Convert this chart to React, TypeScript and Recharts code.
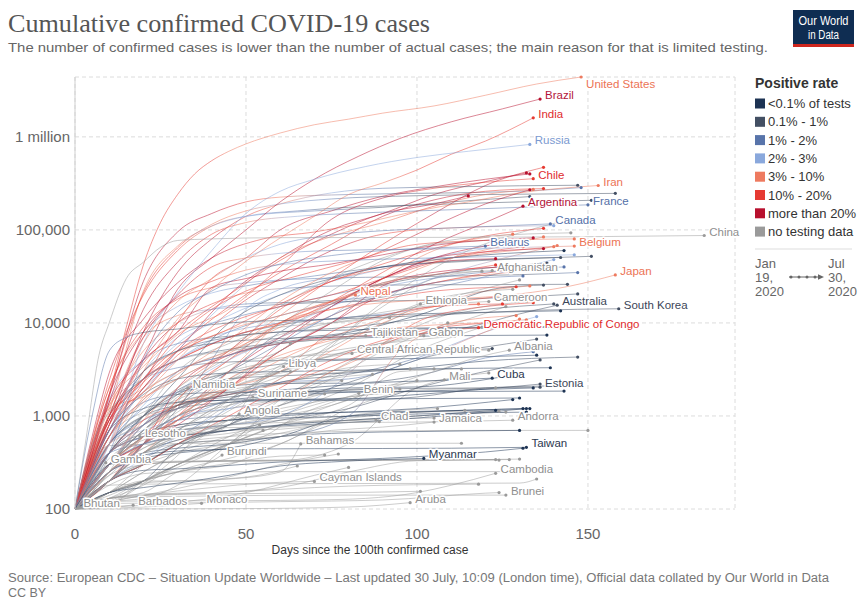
import React from 'react';
import { LineChart, Line, XAxis, YAxis, CartesianGrid } from 'recharts';

// [days since 100th confirmed case, cumulative confirmed cases, positive-rate band index]
type Pt = [number, number, number];
type Track = [string, Pt[]];

const RATE_BANDS = ['<0.1% of tests', '0.1% - 1%', '1% - 2%', '2% - 3%', '3% - 10%', '10% - 20%', 'more than 20%', 'no testing data'];
const BAND_COLORS = ['#1d3353', '#434f63', '#5874aa', '#8aa8dc', '#ee7a5f', '#e63a32', '#b8102e', '#9a9a9a'];
const LABEL_COLORS = ['#2b3850', '#3c4658', '#5470a8', '#7b99d0', '#ec7355', '#e02b2e', '#b3153a', '#8f8f8f'];

const X_TICKS = [0, 50, 100, 150];
const Y_TICKS = [100, 1000, 10000, 100000, 1000000];
const Y_TICK_LABELS = ['100', '1,000', '10,000', '100,000', '1 million'];

const MAJOR: Track[] = [
  ['United States', [[0,100,5],[5,400,5],[10,1700,5],[15,9000,5],[20,42000,5],[25,120000,5],[30,240000,5],[35,400000,5],[40,555000,5],[45,700000,4],[50,840000,4],[60,1100000,4],[70,1350000,4],[80,1550000,4],[90,1800000,4],[105,2150000,4],[120,2800000,4],[135,3700000,4],[148,4400000,4]]],
  ['Brazil', [[0,100,6],[10,900,6],[20,4300,6],[30,23000,6],[40,50000,6],[50,100000,6],[60,200000,6],[70,350000,6],[83,620000,6],[95,960000,6],[110,1450000,6],[125,2000000,6],[136,2550000,6]]],
  ['India', [[0,100,4],[10,500,4],[20,3000,4],[30,11000,4],[40,23000,4],[50,46000,4],[60,82000,4],[70,140000,4],[80,240000,4],[90,320000,4],[100,440000,5],[110,650000,5],[120,900000,5],[134,1600000,5]]],
  ['Russia', [[0,100,3],[10,500,3],[20,6000,3],[30,21000,3],[40,60000,3],[50,150000,3],[60,260000,3],[70,350000,3],[85,480000,3],[100,600000,3],[115,700000,3],[133,830000,3]]],
  ['South Africa', [[0,100,4],[10,1200,4],[20,1600,4],[30,2500,4],[45,5000,4],[60,12000,4],[75,30000,5],[90,70000,5],[105,150000,6],[120,300000,6],[137,470000,5]]],
  ['Mexico', [[0,100,6],[10,600,6],[20,2000,6],[30,5000,6],[45,20000,6],[60,50000,6],[75,100000,6],[90,150000,6],[105,240000,6],[120,330000,6],[132,410000,6]]],
  ['Peru', [[0,100,5],[10,700,5],[20,2300,5],[30,10000,5],[40,30000,5],[50,50000,5],[60,100000,6],[75,160000,6],[90,230000,6],[105,290000,6],[120,350000,6],[133,400000,6]]],
  ['Chile', [[0,100,4],[10,1300,4],[20,3400,4],[30,7500,4],[45,14000,4],[60,40000,5],[75,130000,6],[90,220000,6],[105,280000,5],[120,325000,5],[134,355000,5]]],
  ['United Kingdom', [[0,100,6],[10,800,6],[20,8000,6],[30,35000,6],[40,80000,6],[50,140000,5],[60,190000,4],[75,250000,3],[90,280000,2],[110,290000,1],[130,298000,1],[147,302000,1]]],
  ['Spain', [[0,100,6],[10,1600,6],[20,28000,6],[30,95000,6],[40,150000,6],[50,200000,5],[60,225000,4],[80,240000,2],[110,250000,1],[130,260000,2],[148,285000,2]]],
  ['Italy', [[0,100,5],[10,1700,5],[20,21000,5],[30,64000,5],[40,115000,4],[50,160000,4],[60,190000,3],[75,215000,2],[100,233000,1],[130,242000,1],[158,247000,1]]],
  ['Iran', [[0,100,6],[5,600,6],[10,2900,6],[20,11000,6],[30,27000,6],[40,50000,6],[55,80000,5],[70,95000,5],[85,120000,4],[100,160000,4],[115,200000,4],[130,250000,4],[153,300000,4]]],
  ['Germany', [[0,100,4],[10,1100,4],[20,22000,4],[30,67000,4],[40,110000,3],[50,140000,3],[65,160000,2],[80,175000,1],[100,185000,1],[130,200000,1],[151,208000,1]]],
  ['France', [[0,100,6],[10,1400,6],[20,14000,6],[30,45000,6],[40,90000,5],[50,120000,4],[65,140000,3],[80,150000,2],[100,160000,2],[125,172000,2],[150,186000,2]]],
  ['Turkey', [[0,100,5],[10,2400,5],[20,20000,5],[30,60000,5],[40,110000,4],[50,140000,3],[70,160000,2],[90,175000,1],[110,200000,1],[133,228000,1]]],
  ['Pakistan', [[0,100,5],[10,900,5],[20,2500,5],[30,5500,5],[45,15000,5],[60,35000,5],[75,70000,5],[90,140000,6],[105,210000,6],[120,260000,5],[137,278000,5]]],
  ['Colombia', [[0,100,4],[10,600,4],[20,1500,4],[30,2800,4],[45,6500,4],[60,17000,4],[75,35000,4],[90,60000,5],[105,110000,6],[120,190000,6],[133,270000,6]]],
  ['Saudi Arabia', [[0,100,3],[10,700,3],[20,1800,3],[30,5000,3],[45,18000,3],[60,50000,4],[75,85000,4],[90,120000,4],[105,180000,5],[120,240000,4],[134,272000,4]]],
  ['Bangladesh', [[0,100,5],[10,800,5],[20,3700,5],[30,8000,5],[45,20000,5],[60,47000,5],[75,90000,6],[90,150000,6],[105,190000,6],[115,232000,6]]],
  ['Argentina', [[0,100,4],[10,800,4],[20,1800,4],[30,3000,4],[45,5000,4],[60,9000,4],[75,17000,5],[90,35000,5],[105,70000,6],[120,120000,6],[131,180000,6]]],
  ['Canada', [[0,100,4],[10,1000,4],[20,6000,4],[30,17000,4],[40,30000,4],[50,50000,3],[60,70000,3],[75,88000,2],[90,98000,2],[110,105000,2],[139,116000,2]]],
  ['China', [[0,100,7],[3,500,7],[7,4500,7],[10,10000,7],[15,30000,7],[20,45000,7],[25,65000,7],[30,77000,7],[40,80000,7],[60,82500,7],[100,83000,7],[150,84500,7],[184,87000,7]]],
  ['Qatar', [[0,100,4],[10,500,4],[20,1600,4],[30,4000,4],[45,13000,5],[60,30000,6],[75,60000,6],[90,90000,5],[110,105000,4],[140,111000,3]]],
  ['Iraq', [[0,100,7],[10,300,7],[20,700,7],[30,1200,7],[50,2000,7],[70,4000,7],[85,12000,7],[100,30000,7],[115,60000,7],[130,93000,7],[141,120000,7]]],
  ['Indonesia', [[0,100,5],[10,900,5],[20,1800,5],[30,4500,5],[45,8600,5],[60,16000,5],[75,28000,5],[90,43000,5],[105,63000,5],[120,86000,5],[137,104000,5]]],
  ['Egypt', [[0,100,7],[10,400,7],[20,1000,7],[30,2000,7],[45,4300,7],[60,9700,7],[75,22000,7],[90,47000,7],[105,72000,7],[120,85000,7],[145,93000,7]]],
  ['Philippines', [[0,100,4],[10,1000,4],[20,3000,4],[30,4900,4],[45,8500,4],[60,12000,4],[75,17000,4],[90,26000,4],[105,44000,4],[120,61000,4],[137,84000,4]]],
];

const MIDDLE: Track[] = [
  ['Belgium', [[0,100,6],[10,1000,6],[20,7000,6],[30,20000,6],[40,40000,5],[50,50000,4],[60,56000,3],[75,60000,2],[100,62000,2],[125,64000,3],[146,67000,4]]],
  ['Belarus', [[0,100,2],[10,400,2],[20,4000,2],[30,13000,2],[40,22000,2],[50,33000,2],[60,43000,2],[75,53000,2],[90,60000,2],[105,64000,2],[120,67000,2]]],
  ['Sweden', [[0,100,5],[10,1000,5],[20,2500,5],[30,7000,5],[40,14000,5],[50,22000,5],[65,32000,5],[80,45000,5],[100,70000,5],[120,77000,4],[146,80000,4]]],
  ['Ecuador', [[0,100,6],[10,1400,6],[20,4000,6],[30,8000,6],[40,24000,6],[50,30000,6],[60,36000,6],[75,43000,6],[90,54000,6],[105,68000,6],[134,82000,6]]],
  ['Netherlands', [[0,100,6],[10,1700,6],[20,8000,6],[30,19000,6],[40,28000,5],[50,37000,4],[65,44000,3],[80,47000,2],[110,50500,2],[146,54000,3]]],
  ['Afghanistan', [[0,100,7],[10,300,7],[20,700,7],[30,1100,7],[45,3000,7],[60,8000,7],[75,16000,7],[90,27000,7],[105,33000,7],[122,36500,7]]],
  ['Japan', [[0,100,4],[10,300,4],[20,600,4],[30,900,4],[40,2000,4],[50,4500,4],[60,10000,4],[75,14000,4],[90,16500,4],[110,18000,4],[130,20500,4],[145,25000,4],[158,32800,4]]],
  ['Nepal', [[0,100,4],[10,300,4],[20,600,4],[30,1500,4],[40,3500,4],[50,6000,4],[60,10000,4],[70,15000,4],[82,20000,4]]],
  ['Ethiopia', [[0,100,7],[13,130,7],[27,300,7],[44,1200,7],[60,3500,7],[74,6000,7],[88,9000,7],[101,16000,7]]],
  ['Cameroon', [[0,100,7],[10,500,7],[20,800,7],[30,1200,7],[40,1800,7],[50,3000,7],[60,5000,7],[75,10000,7],[90,13000,7],[105,15500,7],[121,17000,7]]],
  ['Australia', [[0,100,2],[10,700,2],[20,3000,1],[30,5000,1],[40,6000,1],[60,6800,1],[80,7100,1],[100,7500,1],[115,9000,1],[130,12500,1],[141,15500,1]]],
  ['South Korea', [[0,100,2],[5,1000,2],[10,5000,2],[15,7000,2],[20,7900,1],[30,8600,1],[40,9600,1],[50,10300,1],[70,10800,1],[90,11500,1],[110,12400,1],[135,13700,1],[159,14200,1]]],
  ['Democratic Republic of Congo', [[0,100,5],[10,200,5],[20,300,5],[30,500,5],[45,1000,5],[60,2000,5],[75,4000,5],[90,6500,5],[105,8000,5],[118,8900,5]]],
  ['Tajikistan', [[0,100,7],[5,500,7],[10,1100,7],[20,2500,7],[30,4000,7],[45,5000,7],[60,6000,7],[75,6800,7],[85,7300,7]]],
  ['Gabon', [[0,100,7],[10,200,7],[20,400,7],[30,700,7],[45,1500,7],[60,3000,7],[75,4500,7],[90,6000,7],[102,7300,7]]],
  ['Central African Republic', [[0,100,7],[10,300,7],[20,600,7],[30,1000,7],[45,2000,7],[60,3000,7],[70,4000,7],[81,4700,7]]],
  ['Albania', [[0,100,7],[10,250,7],[20,450,7],[30,600,7],[45,800,7],[60,1000,7],[75,1300,7],[90,2000,7],[105,3000,7],[118,4300,7],[127,5100,7]]],
  ['Mali', [[0,100,7],[10,200,7],[20,400,7],[30,600,7],[45,900,7],[60,1300,7],[75,1800,7],[90,2100,7],[108,2450,7]]],
  ['Cuba', [[0,100,3],[10,300,3],[20,800,3],[30,1200,2],[45,1700,1],[60,1900,0],[75,2100,0],[90,2300,0],[105,2400,0],[122,2550,0]]],
  ['Estonia', [[0,100,2],[10,400,2],[20,800,2],[30,1300,1],[45,1600,1],[60,1750,1],[80,1900,1],[100,1980,1],[120,2000,1],[136,2040,1]]],
];

const SMALL: Track[] = [
  ['Libya', [[0,100,7],[10,200,7],[20,400,7],[30,700,7],[40,1100,7],[50,2000,7],[61,3400,7]]],
  ['Namibia', [[0,100,7],[10,200,7],[20,500,7],[27,1000,7],[33,2000,7]]],
  ['Suriname', [[0,100,7],[10,200,7],[20,400,7],[30,600,7],[40,900,7],[52,1600,7]]],
  ['Benin', [[0,100,7],[10,200,7],[20,300,7],[30,400,7],[45,500,7],[55,600,7],[65,1000,7],[75,1400,7],[83,1750,7]]],
  ['Angola', [[0,100,7],[10,150,7],[20,250,7],[30,400,7],[40,700,7],[48,1050,7]]],
  ['Chad', [[0,100,7],[10,250,7],[20,500,7],[30,700,7],[45,800,7],[60,850,7],[75,880,7],[88,910,7]]],
  ['Jamaica', [[0,100,7],[10,200,7],[20,400,7],[30,500,7],[45,550,7],[60,600,7],[75,700,7],[90,760,7],[105,860,7]]],
  ['Andorra', [[0,100,7],[10,350,7],[20,550,7],[30,700,7],[45,750,7],[60,760,7],[80,850,7],[100,860,7],[128,900,7]]],
  ['Lesotho', [[0,100,7],[5,150,7],[10,250,7],[15,350,7],[19,600,7]]],
  ['Bahamas', [[0,100,7],[10,150,7],[20,200,7],[30,200,7],[45,210,7],[60,250,7],[66,500,7]]],
  ['Burundi', [[0,100,7],[10,150,7],[20,200,7],[30,250,7],[38,300,7],[43,380,7]]],
  ['Taiwan', [[0,100,0],[10,300,0],[20,380,0],[30,420,0],[50,440,0],[70,445,0],[90,447,0],[110,450,0],[132,460,0]]],
  ['Gambia', [[0,100,7],[5,150,7],[9,315,7]]],
  ['Myanmar', [[0,100,0],[10,150,0],[20,170,0],[30,190,0],[45,230,0],[60,290,0],[75,320,0],[90,340,0],[102,350,0]]],
  ['Cambodia', [[0,100,7],[10,120,7],[20,122,7],[50,123,7],[70,125,7],[85,130,7],[100,150,7],[110,180,7],[123,242,7]]],
  ['Cayman Islands', [[0,100,7],[10,120,7],[20,140,7],[40,170,7],[55,190,7],[70,198,7]]],
  ['Brunei', [[0,100,7],[10,130,7],[20,135,7],[40,138,7],[70,141,7],[100,141,7],[126,141,7]]],
  ['Bhutan', [[0,100,7],[1,105,7]]],
  ['Barbados', [[0,100,7],[10,105,7],[17,110,7]]],
  ['Monaco', [[0,100,7],[20,105,7],[37,115,7]]],
  ['Aruba', [[0,100,7],[50,101,7],[80,105,7],[98,117,7]]],
];

const FILL_AMERICAS_ASIA: Track[] = [
  ['Oman', [[0,100,7],[10,400,7],[20,1500,7],[30,2500,7],[45,5000,7],[60,15000,7],[75,30000,7],[90,50000,7],[105,70000,7],[124,78000,7]]],
  ['Kuwait', [[0,100,4],[10,300,4],[20,900,4],[30,2000,4],[45,5000,5],[60,14000,5],[75,28000,5],[90,38000,4],[110,50000,4],[140,66000,4]]],
  ['Panama', [[0,100,6],[10,700,6],[20,2500,6],[30,4000,5],[45,7000,5],[60,10000,4],[75,16000,5],[90,30000,6],[105,50000,6],[120,58000,6],[137,63000,6]]],
  ['Bolivia', [[0,100,5],[10,300,5],[20,500,5],[30,1000,5],[45,3000,6],[60,7000,6],[75,15000,6],[90,30000,6],[105,50000,6],[125,72000,6]]],
  ['Dominican Republic', [[0,100,5],[10,900,5],[20,2300,5],[30,5000,5],[45,10000,5],[60,15000,5],[75,20000,5],[90,30000,5],[105,45000,5],[131,66000,5]]],
  ['Guatemala', [[0,100,5],[10,200,5],[20,500,5],[30,900,5],[45,2000,5],[60,6000,6],[75,15000,6],[90,30000,6],[105,45000,6],[123,49000,6]]],
  ['Honduras', [[0,100,6],[10,300,6],[20,500,6],[30,800,6],[45,2000,6],[60,5000,6],[75,10000,6],[90,25000,6],[105,35000,6],[126,40000,6]]],
  ['Nigeria', [[0,100,5],[10,250,5],[20,500,5],[30,1500,5],[45,4000,5],[60,10000,5],[75,17000,5],[90,27000,5],[105,33000,5],[123,42000,5]]],
  ['Ghana', [[0,100,4],[10,200,4],[20,600,4],[30,1300,4],[45,4000,4],[60,7000,4],[75,12000,4],[90,20000,4],[105,27000,4],[127,35000,4]]],
  ['Kazakhstan', [[0,100,3],[10,500,3],[20,800,3],[30,1800,3],[45,4000,3],[60,7000,3],[75,12000,3],[90,30000,4],[105,60000,4],[128,90000,4]]],
  ['Israel', [[0,100,4],[10,1200,4],[20,5000,4],[30,10000,4],[40,14000,3],[50,16000,2],[70,17000,1],[90,20000,2],[110,35000,3],[141,68000,4]]],
  ['Singapore', [[0,100,1],[10,200,1],[20,500,1],[30,1200,1],[40,4000,2],[50,14000,3],[60,23000,3],[75,31000,2],[90,40000,2],[110,45000,1],[151,52000,1]]],
  ['United Arab Emirates', [[0,100,0],[10,400,0],[20,1000,0],[30,2500,1],[45,10000,1],[60,20000,1],[75,30000,1],[90,40000,0],[110,50000,0],[143,60000,0]]],
  ['Armenia', [[0,100,4],[10,300,4],[20,800,4],[30,1200,4],[45,2000,4],[60,5000,5],[75,10000,6],[90,20000,6],[105,27000,5],[128,38000,5]]],
  ['Kyrgyzstan', [[0,100,7],[10,300,7],[20,600,7],[30,1000,7],[45,1500,7],[60,2500,7],[75,6000,7],[90,15000,7],[105,30000,7],[119,36000,7]]],
  ['Algeria', [[0,100,7],[10,600,7],[20,1800,7],[30,3000,7],[45,5000,7],[60,7500,7],[75,10000,7],[90,12000,7],[105,17000,7],[130,29000,7]]],
  ['Azerbaijan', [[0,100,1],[10,400,1],[20,1000,1],[30,1700,1],[45,3000,1],[60,6000,2],[75,12000,2],[90,20000,2],[105,27000,2],[131,32000,2]]],
  ['El Salvador', [[0,100,4],[10,250,4],[20,500,4],[30,1000,4],[45,2000,4],[60,4000,4],[75,7000,4],[90,11000,4],[105,15000,4],[118,16000,4]]],
  ['Costa Rica', [[0,100,4],[10,400,4],[20,600,3],[30,700,2],[45,800,2],[60,1000,2],[75,2000,3],[90,6000,4],[105,12000,5],[134,16500,5]]],
  ['Haiti', [[0,100,6],[10,200,6],[20,500,6],[30,2000,6],[45,4500,6],[60,6000,6],[75,7000,6],[95,7400,6]]],
  ['Sudan', [[0,100,7],[10,300,7],[20,1000,7],[30,3000,7],[45,6000,7],[60,9000,7],[75,10000,7],[92,11400,7]]],
  ['Senegal', [[0,100,4],[10,250,4],[20,400,4],[30,900,4],[45,2500,4],[60,4500,4],[75,6500,4],[90,8500,4],[105,9500,4],[130,10200,4]]],
  ['Bahrain', [[0,100,1],[10,300,1],[20,700,1],[30,1300,1],[45,3000,2],[60,8000,3],[75,15000,3],[90,24000,3],[110,32000,2],[143,40000,2]]],
  ['Vietnam', [[0,100,0],[10,200,0],[20,260,0],[30,270,0],[60,320,0],[90,350,0],[120,410,0],[131,450,0]]],
  ['Thailand', [[0,100,1],[10,700,1],[20,1700,1],[30,2500,1],[45,2900,0],[60,3000,0],[80,3100,0],[100,3200,0],[139,3300,0]]],
  ['Malaysia', [[0,100,2],[10,1000,2],[20,2500,2],[30,4000,2],[45,5200,1],[60,6200,1],[80,7600,0],[100,8600,0],[140,8950,0]]],
  ['Morocco', [[0,100,4],[10,600,4],[20,1400,4],[30,3000,3],[45,4500,2],[60,6500,1],[80,7900,0],[100,12000,0],[125,24000,1],[137,25500,1]]],
  ['Tunisia', [[0,100,4],[10,500,4],[20,700,3],[30,900,2],[45,1000,1],[60,1050,0],[80,1100,0],[100,1200,0],[128,1500,0]]],
  ['Uruguay', [[0,100,2],[10,400,2],[20,500,2],[30,600,1],[45,700,1],[60,780,0],[80,850,0],[100,950,0],[132,1200,0]]],
  ['Paraguay', [[0,100,2],[10,200,2],[20,300,1],[30,500,1],[45,800,1],[60,1300,1],[75,2000,1],[90,3000,1],[105,4500,1],[122,5300,1]]],
  ['Sri Lanka', [[0,100,1],[10,150,1],[20,200,1],[30,450,1],[45,800,1],[60,1600,0],[80,2000,0],[100,2050,0],[129,2800,0]]],
  ['Lebanon', [[0,100,2],[10,300,2],[20,500,2],[30,600,1],[45,700,1],[60,900,1],[80,1200,1],[100,2000,1],[136,4000,1]]],
  ['Jordan', [[0,100,1],[10,250,1],[20,350,0],[30,400,0],[45,450,0],[60,600,0],[80,1000,0],[100,1100,0],[133,1200,0]]],
  ['Georgia', [[0,100,1],[10,200,1],[20,400,1],[30,550,1],[45,700,0],[60,800,0],[80,900,0],[100,1000,0],[123,1150,0]]],
  ['Palestine', [[0,100,2],[10,250,2],[20,350,2],[30,500,1],[60,600,1],[80,1000,2],[95,5000,4],[110,10000,4],[129,12000,4]]],
  ['Kenya', [[0,100,3],[10,200,3],[20,350,3],[30,600,3],[45,1200,3],[60,2500,4],[75,5000,4],[90,10000,4],[105,15000,4],[123,19000,5]]],
  ['Madagascar', [[0,100,7],[10,120,7],[20,130,7],[30,180,7],[45,500,7],[60,1300,7],[75,2500,7],[90,5000,7],[109,10000,7]]],
  ['Zambia', [[0,100,2],[10,200,2],[20,500,2],[30,1000,3],[45,1200,3],[60,1500,4],[75,3000,4],[90,5000,4],[96,5500,4]]],
  ['Ivory Coast', [[0,100,4],[10,400,4],[20,800,4],[30,1300,4],[45,2000,4],[60,3000,4],[75,8000,5],[90,12000,5],[105,15000,5],[125,16000,5]]],
  ['Guinea', [[0,100,7],[10,300,7],[20,800,7],[30,1800,7],[45,3000,7],[60,4000,7],[75,5000,7],[90,6000,7],[111,7200,7]]],
  ['New Zealand', [[0,100,1],[10,700,1],[20,1200,1],[30,1400,0],[45,1480,0],[60,1500,0],[90,1530,0],[130,1560,0]]],
];

const FILL_EUROPE: Track[] = [
  ['Ukraine', [[0,100,3],[10,600,3],[20,2500,3],[30,6000,3],[45,12000,3],[60,20000,3],[75,28000,3],[90,38000,3],[110,55000,3],[128,69000,3]]],
  ['Romania', [[0,100,3],[10,500,3],[20,2000,3],[30,4000,3],[45,8000,2],[60,12000,2],[75,16000,2],[90,19000,1],[110,26000,2],[140,48000,3]]],
  ['Poland', [[0,100,3],[10,800,3],[20,3000,3],[30,7000,3],[45,11000,2],[60,15000,2],[75,20000,2],[90,26000,1],[110,35000,1],[138,44000,1]]],
  ['Portugal', [[0,100,4],[10,2000,4],[20,8000,4],[30,15000,3],[40,21000,3],[50,25000,2],[70,32000,2],[90,40000,1],[110,46000,1],[142,50500,1]]],
  ['Moldova', [[0,100,4],[10,1000,4],[20,2500,4],[30,4000,5],[45,7000,5],[60,10000,5],[75,14000,5],[90,18000,5],[105,22000,5],[129,24500,5]]],
  ['Switzerland', [[0,100,5],[10,2000,5],[20,9000,5],[30,18000,5],[40,24000,4],[50,27000,3],[70,30000,2],[100,31500,1],[130,33000,1],[147,34800,2]]],
  ['Austria', [[0,100,4],[10,1000,4],[20,7000,4],[30,12000,4],[40,14000,3],[50,15000,2],[70,16500,1],[100,17500,1],[130,19000,1],[147,20500,1]]],
  ['Ireland', [[0,100,6],[10,800,6],[20,4000,6],[30,10000,6],[40,16000,5],[50,21000,4],[65,24000,2],[90,25500,1],[120,25800,1],[144,26000,1]]],
  ['Denmark', [[0,100,4],[10,1000,4],[20,2000,4],[30,4000,3],[45,7000,2],[60,9500,1],[80,11500,1],[100,12500,0],[120,13000,0],[142,13500,0]]],
  ['Norway', [[0,100,3],[10,1500,3],[20,4000,3],[30,6000,2],[45,7200,1],[60,8000,1],[80,8400,0],[100,8800,0],[120,9000,0],[143,9200,0]]],
  ['Czechia', [[0,100,3],[10,1000,3],[20,3000,2],[30,5000,2],[45,7000,1],[60,8000,1],[80,9000,1],[100,11000,1],[120,14000,1],[140,16000,1]]],
  ['Finland', [[0,100,3],[10,500,3],[20,1300,3],[30,3000,2],[45,4500,2],[60,6000,1],[80,6800,1],[100,7200,0],[138,7400,0]]],
  ['Greece', [[0,100,2],[10,400,2],[20,1000,2],[30,1800,1],[45,2500,1],[60,2700,1],[80,2900,0],[100,3300,0],[120,3900,0],[147,4300,1]]],
  ['Iceland', [[0,100,2],[10,600,2],[20,1400,2],[30,1700,1],[45,1800,0],[70,1810,0],[100,1830,0],[143,1850,0]]],
  ['Hungary', [[0,100,2],[10,500,2],[20,1000,1],[30,1900,1],[45,2900,1],[60,3600,1],[80,4000,0],[100,4150,0],[135,4500,0]]],
  ['Slovakia', [[0,100,1],[10,300,1],[20,600,1],[30,1000,1],[45,1400,0],[60,1500,0],[80,1530,0],[100,1700,0],[136,2200,1]]],
  ['Lithuania', [[0,100,1],[10,500,1],[20,1000,1],[30,1300,1],[45,1500,0],[60,1650,0],[80,1800,0],[100,1850,0],[134,2000,0]]],
  ['Latvia', [[0,100,1],[10,400,1],[20,600,1],[30,750,0],[45,900,0],[60,1000,0],[80,1100,0],[100,1120,0],[131,1200,0]]],
  ['Luxembourg', [[0,100,4],[10,1300,4],[20,2500,3],[30,3300,2],[45,3800,1],[60,3950,1],[80,4100,0],[100,4500,1],[135,6700,1]]],
  ['Slovenia', [[0,100,2],[10,500,2],[20,900,2],[30,1200,1],[45,1400,1],[60,1460,0],[80,1470,0],[100,1600,1],[120,2000,1],[138,2100,1]]],
  ['Croatia', [[0,100,2],[10,500,2],[20,1200,2],[30,1800,2],[45,2100,1],[60,2240,0],[80,2250,0],[100,2700,1],[120,4200,2],[134,4900,2]]],
  ['Bulgaria', [[0,100,2],[10,400,2],[20,600,2],[30,900,2],[45,1500,2],[60,2300,1],[80,2800,1],[100,4200,2],[120,8000,3],[135,11700,3]]],
  ['Serbia', [[0,100,4],[10,700,4],[20,2000,4],[30,5000,4],[45,8000,3],[60,10000,2],[80,11500,2],[100,14000,3],[120,22000,4],[133,25000,4]]],
  ['Bosnia and Herzegovina', [[0,100,3],[10,400,3],[20,800,3],[30,1300,2],[45,1700,2],[60,2300,2],[80,2500,2],[100,4000,3],[120,8000,4],[130,11000,4]]],
  ['North Macedonia', [[0,100,5],[10,400,5],[20,900,5],[30,1300,4],[45,1700,4],[60,2200,4],[80,4000,5],[100,8000,5],[120,10000,5],[132,10800,4]]],
  ['Cyprus', [[0,100,1],[10,400,1],[20,650,1],[30,800,0],[45,900,0],[60,950,0],[80,990,0],[100,1050,0],[132,1100,0]]],
  ['Malta', [[0,100,1],[10,300,1],[20,400,1],[30,450,0],[45,500,0],[60,600,0],[80,660,0],[100,680,0],[130,700,0]]],
];

const FILL_NO_DATA: Track[] = [
  ['Mauritius', [[0,100,7],[5,200,7],[10,300,7],[20,320,7],[40,330,7],[80,335,7],[120,340,7],[130,344,7]]],
  ['Faeroe Islands', [[0,100,7],[5,150,7],[10,180,7],[20,185,7],[50,187,7],[90,188,7],[130,190,7],[135,210,7]]],
  ['Gibraltar', [[0,100,7],[10,130,7],[20,145,7],[40,150,7],[80,176,7],[118,185,7]]],
  ['Isle of Man', [[0,100,7],[10,200,7],[20,300,7],[30,320,7],[60,336,7],[90,336,7],[124,336,7]]],
  ['Jersey', [[0,100,7],[10,200,7],[20,300,7],[30,320,7],[60,330,7],[90,333,7],[127,340,7]]],
  ['Guernsey', [[0,100,7],[10,180,7],[20,240,7],[30,250,7],[60,252,7],[90,252,7],[125,252,7]]],
  ['Bermuda', [[0,100,7],[10,130,7],[20,140,7],[40,145,7],[80,150,7],[101,155,7]]],
  ['San Marino', [[0,100,7],[10,200,7],[20,300,7],[30,500,7],[45,600,7],[60,650,7],[90,690,7],[120,700,7],[150,700,7]]],
  ['Montenegro', [[0,100,7],[10,230,7],[20,300,7],[30,320,7],[45,325,7],[60,330,7],[80,500,7],[100,2000,7],[121,2900,7]]],
  ['Uzbekistan', [[0,100,7],[10,300,7],[20,600,7],[30,1600,7],[45,2400,7],[60,3400,7],[75,5500,7],[90,11000,7],[105,18000,7],[128,23000,7]]],
  ['Venezuela', [[0,100,7],[10,150,7],[20,200,7],[30,300,7],[45,500,7],[60,1500,7],[75,3000,7],[90,6000,7],[105,11000,7],[132,17000,7]]],
  ['Djibouti', [[0,100,7],[10,500,7],[20,1000,7],[30,1200,7],[45,2500,7],[60,4200,7],[75,4600,7],[90,5000,7],[121,5100,7]]],
  ['Somalia', [[0,100,7],[10,300,7],[20,700,7],[30,1300,7],[45,1700,7],[60,2300,7],[75,2900,7],[90,3100,7],[105,3200,7]]],
  ['Mauritania', [[0,100,7],[10,300,7],[20,800,7],[30,1700,7],[45,3500,7],[60,5000,7],[63,6000,7]]],
  ['Equatorial Guinea', [[0,100,7],[10,300,7],[20,500,7],[30,600,7],[45,1300,7],[60,1700,7],[80,3000,7],[98,3200,7]]],
  ['Guinea-Bissau', [[0,100,7],[10,300,7],[20,500,7],[30,900,7],[45,1300,7],[60,1700,7],[80,1900,7],[95,1950,7]]],
  ['Sierra Leone', [[0,100,7],[10,150,7],[20,300,7],[30,500,7],[45,900,7],[60,1200,7],[80,1600,7],[93,1800,7]]],
  ['Liberia', [[0,100,7],[10,150,7],[20,200,7],[30,250,7],[45,300,7],[60,500,7],[80,1000,7],[106,1200,7]]],
  ['Togo', [[0,100,7],[10,120,7],[20,200,7],[30,300,7],[45,500,7],[60,650,7],[80,900,7],[105,950,7]]],
  ['Niger', [[0,100,7],[10,400,7],[20,600,7],[30,700,7],[45,800,7],[60,900,7],[80,1000,7],[100,1100,7],[124,1130,7]]],
  ['Burkina Faso', [[0,100,7],[10,250,7],[20,400,7],[30,550,7],[45,650,7],[60,800,7],[80,900,7],[100,1000,7],[126,1100,7]]],
  ['Congo', [[0,100,7],[10,150,7],[20,200,7],[30,300,7],[45,500,7],[60,800,7],[80,1300,7],[95,3000,7],[113,3200,7]]],
  ['Mozambique', [[0,100,7],[10,150,7],[20,200,7],[30,300,7],[45,600,7],[60,1000,7],[80,1600,7],[92,1750,7]]],
  ['Uganda', [[0,100,7],[10,150,7],[20,250,7],[30,400,7],[45,600,7],[60,800,7],[80,950,7],[100,1100,7],[114,1150,7]]],
  ['Rwanda', [[0,100,7],[10,130,7],[20,150,7],[30,250,7],[45,350,7],[60,500,7],[80,1200,7],[100,1900,7],[123,2000,7]]],
  ['Tanzania', [[0,100,7],[5,300,7],[10,480,7],[40,509,7],[80,509,7],[113,509,7]]],
  ['Zimbabwe', [[0,100,7],[10,200,7],[20,300,7],[30,500,7],[45,800,7],[55,2500,7],[63,3000,7]]],
  ['Malawi', [[0,100,7],[10,200,7],[20,400,7],[30,700,7],[45,1500,7],[60,3000,7],[70,3800,7]]],
  ['Eswatini', [[0,100,7],[10,200,7],[20,300,7],[30,500,7],[45,800,7],[60,1500,7],[75,2500,7],[87,2800,7]]],
  ['Syria', [[0,100,7],[10,130,7],[20,180,7],[30,300,7],[45,500,7],[55,700,7]]],
  ['Yemen', [[0,100,7],[10,250,7],[20,500,7],[30,900,7],[45,1200,7],[60,1500,7],[73,1730,7]]],
  ['Nicaragua', [[0,100,7],[10,250,7],[20,1000,7],[30,1500,7],[45,2500,7],[60,3000,7],[66,3400,7]]],
  ['Trinidad and Tobago', [[0,100,7],[10,115,7],[30,116,7],[60,120,7],[90,125,7],[120,148,7],[124,150,7]]],
  ['Guyana', [[0,100,7],[10,120,7],[20,140,7],[40,200,7],[60,300,7],[77,390,7]]],
  ['Maldives', [[0,100,7],[10,300,7],[20,700,7],[30,1400,7],[45,1800,7],[60,2200,7],[80,3300,7],[95,3600,7]]],
  ['Cape Verde', [[0,100,7],[10,110,7],[20,200,7],[30,300,7],[45,500,7],[60,800,7],[80,1500,7],[100,2400,7]]],
  ['Botswana', [[0,100,7],[10,150,7],[20,200,7],[30,280,7],[45,500,7],[54,800,7]]],
  ['Kosovo', [[0,100,7],[10,250,7],[20,500,7],[30,800,7],[45,900,7],[60,1100,7],[80,2000,7],[100,5000,7],[119,9000,7]]],
  ['Puerto Rico', [[0,100,7],[10,600,7],[20,1100,7],[30,1400,7],[45,2000,7],[60,3000,7],[80,5000,7],[100,7500,7],[126,15000,7]]],
  ['Guam', [[0,100,7],[10,130,7],[20,140,7],[40,150,7],[60,170,7],[80,250,7],[100,330,7],[123,340,7]]],
  ['Mongolia', [[0,100,7],[10,140,7],[20,190,7],[30,200,7],[50,220,7],[65,290,7]]],
  ['Sao Tome and Principe', [[0,100,7],[10,230,7],[20,450,7],[30,600,7],[45,700,7],[60,720,7],[80,860,7],[89,870,7]]],
  ['Comoros', [[0,100,7],[10,130,7],[20,200,7],[30,250,7],[45,310,7],[60,370,7],[73,380,7]]],
  ['South Sudan', [[0,100,7],[10,300,7],[20,600,7],[30,1000,7],[45,1900,7],[60,2200,7],[78,2400,7]]],
  ['Eritrea', [[0,100,7],[50,150,7],[70,230,7],[80,280,7]]],
];

const LABELED = [
  'United States', 'Brazil', 'India', 'Russia', 'Chile', 'Iran', 'Argentina', 'France', 'Canada', 'China',
  'Belarus', 'Belgium', 'Afghanistan', 'Japan', 'Nepal', 'Ethiopia', 'Cameroon', 'Australia', 'South Korea',
  'Democratic Republic of Congo', 'Tajikistan', 'Gabon', 'Central African Republic', 'Albania', 'Mali', 'Cuba',
  'Estonia', 'Libya', 'Namibia', 'Suriname', 'Benin', 'Angola', 'Chad', 'Jamaica', 'Andorra', 'Lesotho',
  'Bahamas', 'Burundi', 'Taiwan', 'Gambia', 'Myanmar', 'Cambodia', 'Cayman Islands', 'Brunei', 'Bhutan',
  'Barbados', 'Monaco', 'Aruba',
];

// label placement nudges (style only)
const LABEL_DY: Record<string, number> = { 'United States': 11 };

const FONT = "'Liberation Sans', Arial, sans-serif";

type Row = { d: number; v: number; r: number };
type Series = { name: string; data: Row[]; labeled: boolean };

const SERIES: Series[] = [...FILL_NO_DATA, ...FILL_EUROPE, ...FILL_AMERICAS_ASIA, ...MAJOR, ...MIDDLE, ...SMALL]
  .map(([name, pts]) => ({
    name,
    labeled: LABELED.includes(name),
    data: pts.map(([d, v, r]) => ({ d, v, r })),
  }))
  .sort((a, b) => Number(a.labeled) - Number(b.labeled));

const gradId = (i: number) => `band-grad-${i}`;

const makeDot = (s: Series) => (props: any) => {
  const { cx, cy, index } = props;
  const n = s.data.length;
  if (index !== n - 1 || cx == null || cy == null) return <g key={`e-${index}`} />;
  const band = s.data[n - 1].r;
  return (
    <g key={`e-${index}`}>
      <circle cx={cx} cy={cy} r={1.6} fill={BAND_COLORS[band]} />
      {s.labeled && (
        <text
          x={cx + 5}
          y={cy + (LABEL_DY[s.name] ?? 0)}
          fontSize={11.5}
          fontFamily={FONT}
          fill={LABEL_COLORS[band]}
          stroke="#ffffff"
          strokeWidth={3}
          strokeLinejoin="round"
          paintOrder="stroke"
        >
          {s.name}
        </text>
      )}
    </g>
  );
};

const XTick = (props: any) => {
  const { x, payload } = props;
  return (
    <text x={x} y={539} textAnchor="middle" fontSize={15} fontFamily={FONT} fill="#666">
      {payload.value}
    </text>
  );
};

const YTick = (props: any) => {
  const { y, payload } = props;
  const i = Y_TICKS.indexOf(payload.value);
  return (
    <text x={70} y={y + 5} textAnchor="end" fontSize={15} fontFamily={FONT} fill="#666">
      {Y_TICK_LABELS[i]}
    </text>
  );
};

export default function App() {
  return (
    <div style={{ position: 'absolute', left: 0, top: 0, width: 858, height: 599, background: '#fff', fontFamily: FONT }}>
      <svg width={0} height={0} style={{ position: 'absolute', left: 0, top: 0 }}>
        <defs>
          {SERIES.map((s, i) => {
            const d0 = s.data[0].d;
            const d1 = s.data[s.data.length - 1].d;
            return (
              <linearGradient key={i} id={gradId(i)} x1="0" y1="0" x2="1" y2="0">
                {s.data.map((p, j) => (
                  <stop key={j} offset={(p.d - d0) / (d1 - d0)} stopColor={BAND_COLORS[p.r]} />
                ))}
              </linearGradient>
            );
          })}
        </defs>
      </svg>
      <div style={{ position: 'absolute', left: 0, top: 0 }}>
        <LineChart width={858} height={599} margin={{ top: 77, right: 123, bottom: 60, left: 5 }}>
          <CartesianGrid strokeDasharray="4 3" stroke="#dcdcdc" />
          <XAxis
            type="number"
            dataKey="d"
            domain={[0, 193]}
            ticks={X_TICKS}
            axisLine={false}
            tickLine={false}
            height={30}
            tick={XTick}
          />
          <YAxis
            type="number"
            dataKey="v"
            scale="log"
            domain={[100, 4400000]}
            ticks={Y_TICKS}
            axisLine={{ stroke: '#cfcfcf' }}
            tickLine={false}
            width={70}
            tick={YTick}
          />
          {SERIES.map((s, i) => (
            <Line
              key={s.name}
              name={s.name}
              data={s.data}
              dataKey="v"
              type="monotone"
              stroke={`url(#${gradId(i)})`}
              strokeWidth={0.85}
              strokeOpacity={0.6}
              dot={makeDot(s)}
              activeDot={false}
              isAnimationActive={false}
            />
          ))}
        </LineChart>
      </div>
      <svg width={858} height={599} style={{ position: 'absolute', left: 0, top: 0, pointerEvents: 'none' }}>
        <text x={8} y={32} fontFamily="'Liberation Serif', serif" fontSize={26} fill="#555" textLength={422} lengthAdjust="spacingAndGlyphs">
          Cumulative confirmed COVID-19 cases
        </text>
        <text x={8} y={52} fontFamily={FONT} fontSize={13.5} fill="#666" textLength={760} lengthAdjust="spacingAndGlyphs">
          The number of confirmed cases is lower than the number of actual cases; the main reason for that is limited testing.
        </text>
        <rect x={793} y={10} width={61} height={37} fill="#0f2d52" />
        <rect x={793} y={44} width={61} height={3} fill="#ce261e" />
        <text x={823.5} y={25} textAnchor="middle" fontFamily={FONT} fontSize={12} fill="#fff" textLength={50} lengthAdjust="spacingAndGlyphs">Our World</text>
        <text x={823.5} y={39} textAnchor="middle" fontFamily={FONT} fontSize={12} fill="#fff" textLength={31} lengthAdjust="spacingAndGlyphs">in Data</text>

        <text x={755} y={88} fontFamily={FONT} fontSize={14} fontWeight="bold" fill="#333">Positive rate</text>
        {RATE_BANDS.map((b, i) => (
          <g key={b}>
            <rect x={755} y={98.5 + i * 18.3} width={10} height={10} fill={BAND_COLORS[i]} />
            <text x={768} y={108 + i * 18.3} fontFamily={FONT} fontSize={13} fill="#333">{b}</text>
          </g>
        ))}
        <line x1={755} x2={852} y1={249} y2={249} stroke="#ddd" />
        <text fontFamily={FONT} fontSize={13} fill="#666">
          <tspan x={755} y={268}>Jan</tspan>
          <tspan x={755} y={282}>19,</tspan>
          <tspan x={755} y={296}>2020</tspan>
          <tspan x={828} y={268}>Jul</tspan>
          <tspan x={828} y={282}>30,</tspan>
          <tspan x={828} y={296}>2020</tspan>
        </text>
        <line x1={789} x2={821} y1={277} y2={277} stroke="#666" strokeWidth={1} />
        {[791, 799, 807, 815].map((cx) => (
          <circle key={cx} cx={cx} cy={277} r={1.5} fill="#666" />
        ))}
        <polygon points="824,277 818,274.3 818,279.7" fill="#666" />

        <text x={370} y={554} textAnchor="middle" fontFamily={FONT} fontSize={12} fill="#333">
          Days since the 100th confirmed case
        </text>
        <text x={8} y={582} fontFamily={FONT} fontSize={12.5} fill="#777" textLength={821} lengthAdjust="spacingAndGlyphs">
          Source: European CDC – Situation Update Worldwide – Last updated 30 July, 10:09 (London time), Official data collated by Our World in Data
        </text>
        <text x={8} y={597} fontFamily={FONT} fontSize={12.5} fill="#777">CC BY</text>
      </svg>
    </div>
  );
}
